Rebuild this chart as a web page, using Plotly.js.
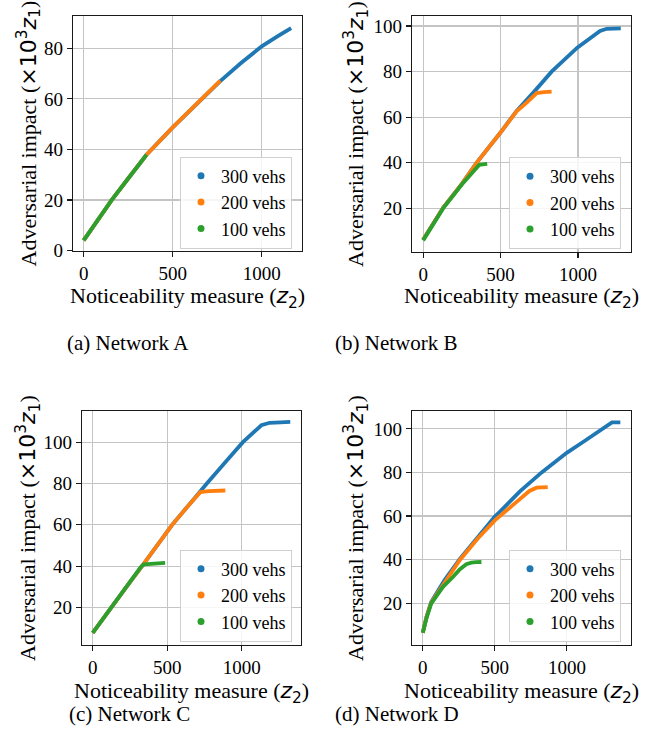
<!DOCTYPE html>
<html><head><meta charset="utf-8">
<script src="https://cdn.plot.ly/plotly-3.0.1.min.js"></script>
<style>html,body{margin:0;padding:0;background:#fff;}#chart{width:645px;height:751px;}</style>
</head><body><div id="chart"></div>
<script>
// ---- data ----
const seriesNames = ['300 vehs', '200 vehs', '100 vehs'];
const captions = ['(a) Network A', '(b) Network B', '(c) Network C', '(d) Network D'];
const xTickVals = [0, 500, 1000];
const yTickValsA = [0, 20, 40, 60, 80];
const yTickValsBCD = [20, 40, 60, 80, 100];

// Network A
const A300_x = [0, 80, 158, 250, 353, 500, 663, 767, 880, 1000, 1090, 1165];
const A300_y = [4, 12, 20, 28.5, 37.9, 48.7, 60, 67, 74, 80.8, 84.8, 88];
const A200_x = [0, 80, 158, 250, 353, 500, 663, 767];
const A200_y = [4, 12, 20, 28.5, 37.9, 48.7, 60, 67.2];
const A100_x = [0, 80, 158, 250, 353];
const A100_y = [4, 12, 20, 28.5, 37.9];

// Network B
const B300_x = [0, 129, 250, 345, 500, 604, 712, 830, 996, 1100, 1143, 1186, 1230, 1277];
const B300_y = [6.3, 20.3, 30.8, 40, 53.3, 62.8, 70.8, 80, 90.5, 95.8, 97.8, 98.8, 99, 99];
const B200_x = [0, 129, 250, 345, 500, 604, 669, 712, 734, 780, 830];
const B200_y = [6.3, 20.3, 30.8, 40, 53.3, 62.6, 66.4, 69.5, 70.6, 71.0, 71.2];
const B100_x = [0, 129, 250, 330, 350, 362, 385, 414];
const B100_y = [6.0, 20, 30.5, 37, 38.7, 39.1, 39.3, 39.5];

// Network C
const C300_x = [0, 123, 230, 336, 533, 650, 722, 766, 900, 1008, 1132, 1188, 1260, 1326];
const C300_y = [7.7, 20, 30.3, 40.5, 60, 70, 75.8, 80, 91.1, 100, 108.2, 109.4, 109.6, 109.8];
const C200_x = [0, 123, 230, 336, 533, 650, 705, 722, 780, 840, 890];
const C200_y = [7.7, 20, 30.3, 40.5, 60, 70, 74.6, 75.8, 76.3, 76.5, 76.6];
const C100_x = [0, 123, 230, 325, 345, 420, 486];
const C100_y = [7.7, 20, 30.3, 39.8, 40.8, 41.3, 41.6];

// Network D
const D300_x = [0, 25, 58, 150, 256, 380, 500, 534, 674, 825, 999, 1120, 1231, 1290, 1313, 1371];
const D300_y = [6.4, 13.5, 20.5, 30.5, 40.2, 50.5, 59.8, 61.9, 71.3, 80, 89, 94.3, 99.2, 102.3, 103, 103];
const D200_x = [0, 25, 58, 150, 256, 380, 500, 651, 740, 790, 830, 867];
const D200_y = [6.4, 13.5, 20.2, 29.5, 39.7, 49.6, 58, 66.5, 71.5, 73, 73.2, 73.3];
const D100_x = [0, 25, 58, 140, 209, 256, 302, 337, 370, 407];
const D100_y = [6.4, 13, 19.8, 27.5, 32, 35.5, 37.9, 38.6, 38.8, 38.9];

// ---- styling ----
const colors = ['#1f77b4', '#ff7f0e', '#2ca02c'];
const W = 645, H = 751;
const SERIF = 'Liberation Serif';
const TICK_FS = 19, TITLE_FS = 22, LEG_FS = 18, CAP_FS = 21;
const px = v => v / W;
const py = v => 1 - v / H;

const panels = [
  {xs: [A300_x, A200_x, A100_x], ys: [A300_y, A200_y, A100_y], xdom: [73, 302], ydom: [16, 251], xr: [-60, 1226], yr: [-0.2, 92.8], yt: yTickValsA, leg: [292, 202.5], ytx: 28, xty: 297, cap: [128, 343]},
  {xs: [B300_x, B200_x, B100_x], ys: [B300_y, B200_y, B100_y], xdom: [412, 631], ydom: [16, 252], xr: [-72, 1343], yr: [0.9, 104.4], yt: yTickValsBCD, leg: [621, 203], ytx: 356, xty: 298, cap: [396, 343]},
  {xs: [C300_x, C200_x, C100_x], ys: [C300_y, C200_y, C100_y], xdom: [82, 301], ydom: [411, 645], xr: [-72, 1398], yr: [1.8, 115.1], yt: yTickValsBCD, leg: [292, 595.5], ytx: 28, xty: 692, cap: [129, 714]},
  {xs: [D300_x, D200_x, D100_x], ys: [D300_y, D200_y, D100_y], xdom: [412, 631], ydom: [411, 645], xr: [-75, 1445], yr: [0.8, 108.2], yt: yTickValsBCD, leg: [621, 595.5], ytx: 356, xty: 692, cap: [397, 714]}
];

const traces = [];
const layout = {
  width: W, height: H,
  margin: {l: 0, r: 0, t: 0, b: 0},
  paper_bgcolor: '#fff', plot_bgcolor: '#fff',
  font: {family: SERIF, size: TICK_FS, color: '#000'},
  showlegend: true,
  annotations: []
};

const yTitle = 'Adversarial impact (<span style="font-family:DejaVu Sans">×10<sup>3</sup><i>z</i><sub>1</sub></span>)';
const xTitle = 'Noticeability measure (<span style="font-family:DejaVu Sans"><i>z</i><sub>2</sub></span>)';

panels.forEach((p, i) => {
  const n = i === 0 ? '' : String(i + 1);
  const xa = 'x' + n, ya = 'y' + n;
  const legName = 'legend' + n;
  for (let s = 0; s < 3; s++) {
    traces.push({
      type: 'scatter', mode: 'lines', x: p.xs[s], y: p.ys[s],
      xaxis: xa, yaxis: ya, showlegend: false,
      line: {color: colors[s], width: 3.8}, hoverinfo: 'skip'
    });
  }
  for (let s = 0; s < 3; s++) {
    traces.push({
      type: 'scatter', mode: 'markers', x: [null], y: [null],
      xaxis: xa, yaxis: ya, name: seriesNames[s], legend: legName,
      marker: {color: colors[s], size: 7}
    });
  }
  const axCommon = {
    showline: true, mirror: true, linecolor: '#1a1a1a', linewidth: 1.2,
    ticks: 'outside', ticklen: 5, tickwidth: 1.2, tickcolor: '#1a1a1a',
    showgrid: true, gridcolor: '#c4c4c4', gridwidth: 1.2, zeroline: false,
    tickfont: {family: SERIF, size: TICK_FS, color: '#000'}, fixedrange: true
  };
  layout['xaxis' + n] = Object.assign({}, axCommon, {
    domain: [px(p.xdom[0]), px(p.xdom[1])], anchor: ya, range: p.xr,
    tickmode: 'array', tickvals: xTickVals, ticktext: xTickVals.map(String)
  });
  layout['yaxis' + n] = Object.assign({}, axCommon, {
    domain: [py(p.ydom[1]), py(p.ydom[0])], anchor: xa, range: p.yr,
    tickmode: 'array', tickvals: p.yt, ticktext: p.yt.map(String)
  });
  layout[legName] = {
    x: px(p.leg[0]), y: py(p.leg[1]), xanchor: 'right', yanchor: 'middle',
    xref: 'paper', yref: 'paper',
    bgcolor: 'rgba(255,255,255,0.85)', bordercolor: '#d0d0d0', borderwidth: 1,
    font: {family: SERIF, size: LEG_FS, color: '#000'}, itemwidth: 30
  };
  const cx = (p.xdom[0] + p.xdom[1]) / 2;
  const cy = (p.ydom[0] + p.ydom[1]) / 2;
  layout.annotations.push({
    text: xTitle, xref: 'paper', yref: 'paper', x: px(cx), y: py(p.xty),
    xanchor: 'center', yanchor: 'middle', showarrow: false,
    font: {family: SERIF, size: TITLE_FS, color: '#000'}
  });
  layout.annotations.push({
    text: yTitle, xref: 'paper', yref: 'paper', x: px(p.ytx), y: py(cy),
    xanchor: 'center', yanchor: 'middle', showarrow: false, textangle: -90,
    font: {family: SERIF, size: TITLE_FS, color: '#000'}
  });
  layout.annotations.push({
    text: captions[i], xref: 'paper', yref: 'paper', x: px(p.cap[0]), y: py(p.cap[1]),
    xanchor: 'center', yanchor: 'middle', showarrow: false,
    font: {family: SERIF, size: CAP_FS, color: '#000'}
  });
});

Plotly.newPlot('chart', traces, layout, {staticPlot: true, displayModeBar: false});
</script></body></html>
